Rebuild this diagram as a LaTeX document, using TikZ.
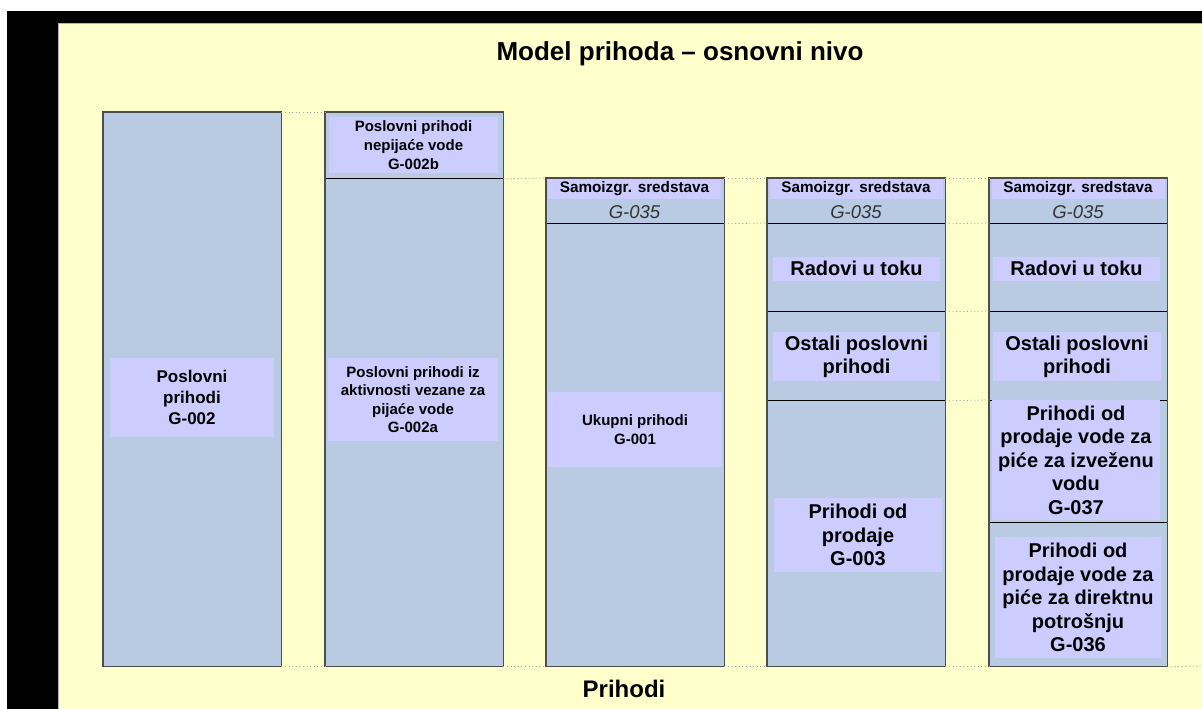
\documentclass[tikz,border=0pt]{standalone}
\usepackage{fontspec}
\setmainfont{Liberation Sans}
\usetikzlibrary{calc}
\definecolor{bgyellow}{HTML}{FFFFCC}
\definecolor{colblue}{HTML}{B9CAE3}
\definecolor{lav}{HTML}{CCCCFF}
\definecolor{codegray}{HTML}{333333}
\definecolor{borderg}{HTML}{4D4D4D}
\newcommand{\fsz}[2]{\fontsize{#1pt}{#2pt}\selectfont}
\begin{document}
\begin{tikzpicture}[x=1pt,y=-1pt,
  seg/.style={draw=black, line width=0.8pt, fill=colblue, inner sep=0pt, anchor=north west, minimum width=177.5pt},
  colframe/.style={draw=borderg, line width=1.3pt},
  lbl/.style={fill=lav, inner sep=0pt, align=center, font=\bfseries},
  code/.style={inner sep=0pt, font=\itshape\fsz{18.5}{21}, text=codegray},
  conn/.style={draw=gray!75, line width=0.8pt, dash pattern=on 1pt off 2.6pt}]
% background
\fill[white] (0,0) rectangle (1202,709);
\useasboundingbox (0,0) rectangle (1202,709);
\fill[black] (7,11) rectangle (1202,709);
\fill[bgyellow, draw=gray!60, line width=0.8pt] (58,23) rectangle (1203,710);

% title
\node[font=\bfseries\fsz{26}{30}] (title) at (680,54) {Model prihoda -- osnovni nivo};
\node[font=\bfseries\fsz{24}{28}] (bottom) at (624,689) {Prihodi};

% column 1
\node[seg, minimum height=554pt] (c1) at (103,112) {};
% column 2
\node[seg, minimum height=66pt] (c2a) at (325,112) {};
\node[seg, minimum height=488pt] (c2b) at (325,178) {};
% column 3
\node[seg, minimum height=45pt] (c3a) at (546,178) {};
\node[seg, minimum height=443pt] (c3b) at (546,223) {};
% column 4
\node[seg, minimum height=45pt] (c4a) at (767,178) {};
\node[seg, minimum height=88pt] (c4b) at (767,223) {};
\node[seg, minimum height=89pt] (c4c) at (767,311) {};
\node[seg, minimum height=266pt] (c4d) at (767,400) {};
% column 5
\node[seg, minimum height=45pt] (c5a) at (989,178) {};
\node[seg, minimum height=88pt] (c5b) at (989,223) {};
\node[seg, minimum height=89pt] (c5c) at (989,311) {};
\node[seg, minimum height=122pt] (c5d) at (989,400) {};
\node[seg, minimum height=144pt] (c5e) at (989,522) {};

% column frames
\draw[colframe] (c1.north west) rectangle (c1.south east);
\draw[colframe] (c2a.north west) rectangle (c2b.south east);
\draw[colframe] (c3a.north west) rectangle (c3b.south east);
\draw[colframe] (c4a.north west) rectangle (c4d.south east);
\draw[colframe] (c5a.north west) rectangle (c5e.south east);

% dotted connectors
\coordinate (rend) at (1202,666);
\draw[conn] (c1.north east) -- (c2a.north west);
\draw[conn] (c2a.south east) -- (c3a.north west);
\draw[conn] (c3a.north east) -- (c4a.north west);
\draw[conn] (c4a.north east) -- (c5a.north west);
\draw[conn] (c3a.south east) -- (c4b.north west);
\draw[conn] (c4a.south east) -- (c5b.north west);
\draw[conn] (c4b.south east) -- (c5c.north west);
\draw[conn] (c4c.south east) -- (c5d.north west);
\draw[conn] (c1.south east) -- (c2b.south west);
\draw[conn] (c2b.south east) -- (c3b.south west);
\draw[conn] (c3b.south east) -- (c4d.south west);
\draw[conn] (c4d.south east) -- (c5e.south west);
\draw[conn] (c5e.south east) -- (rend);

% labels column 1
\node[lbl, minimum width=164pt, minimum height=79pt, font=\bfseries\fsz{17}{21}] (l1) at (192,397.5) {Poslovni\\prihodi\\G-002};
% column 2
\node[lbl, minimum width=169pt, minimum height=56pt, font=\bfseries\fsz{15}{19}] (l2a) at (413.5,145) {Poslovni prihodi\\nepijaće vode\\G-002b};
\node[lbl, minimum width=170pt, minimum height=83pt, font=\bfseries\fsz{15}{18.3}] (l2b) at (413,399.5) {Poslovni prihodi iz\\aktivnosti vezane za\\pijaće vode\\G-002a};
% column 3
\node[lbl, minimum width=173pt, minimum height=20pt, font=\bfseries\fsz{15.3}{18}] (s3) at (634.5,189) {Samoizgr. sredstava};
\node[code] (g3) at (634.5,212) {G-035};
\node[lbl, minimum width=174pt, minimum height=75pt, font=\bfseries\fsz{15}{18.3}] (l3) at (635,429.5) {Ukupni prihodi\\G-001};
% column 4
\node[lbl, minimum width=173pt, minimum height=20pt, font=\bfseries\fsz{15.3}{18}] (s4) at (856,189) {Samoizgr. sredstava};
\node[code] (g4) at (856,212) {G-035};
\node[lbl, minimum width=167pt, minimum height=24pt, font=\bfseries\fsz{20}{23}] (r4) at (856.5,268.5) {Radovi u toku};
\node[lbl, minimum width=167pt, minimum height=49pt, font=\bfseries\fsz{20}{23}] (o4) at (856.5,356.5) {Ostali poslovni\\prihodi};
\node[lbl, minimum width=168pt, minimum height=74pt, font=\bfseries\fsz{20}{23.3}] (p4) at (858,535) {Prihodi od\\prodaje\\G-003};
% column 5
\node[lbl, minimum width=173pt, minimum height=20pt, font=\bfseries\fsz{15.3}{18}] (s5) at (1078,189) {Samoizgr. sredstava};
\node[code] (g5) at (1078,212) {G-035};
\node[lbl, minimum width=167pt, minimum height=24pt, font=\bfseries\fsz{20}{23}] (r5) at (1076.5,268.5) {Radovi u toku};
\node[lbl, minimum width=168pt, minimum height=49pt, font=\bfseries\fsz{20}{23}] (o5) at (1077,356.5) {Ostali poslovni\\prihodi};
\node[lbl, minimum width=168pt, minimum height=120pt, font=\bfseries\fsz{20}{23.5}] (p5a) at (1076,460) {Prihodi od\\prodaje vode za\\piće za izveženu\\vodu\\G-037};
\node[lbl, minimum width=166pt, minimum height=121pt, font=\bfseries\fsz{20}{23.5}] (p5b) at (1078,597.5) {Prihodi od\\prodaje vode za\\piće za direktnu\\potrošnju\\G-036};
\end{tikzpicture}
\end{document}
